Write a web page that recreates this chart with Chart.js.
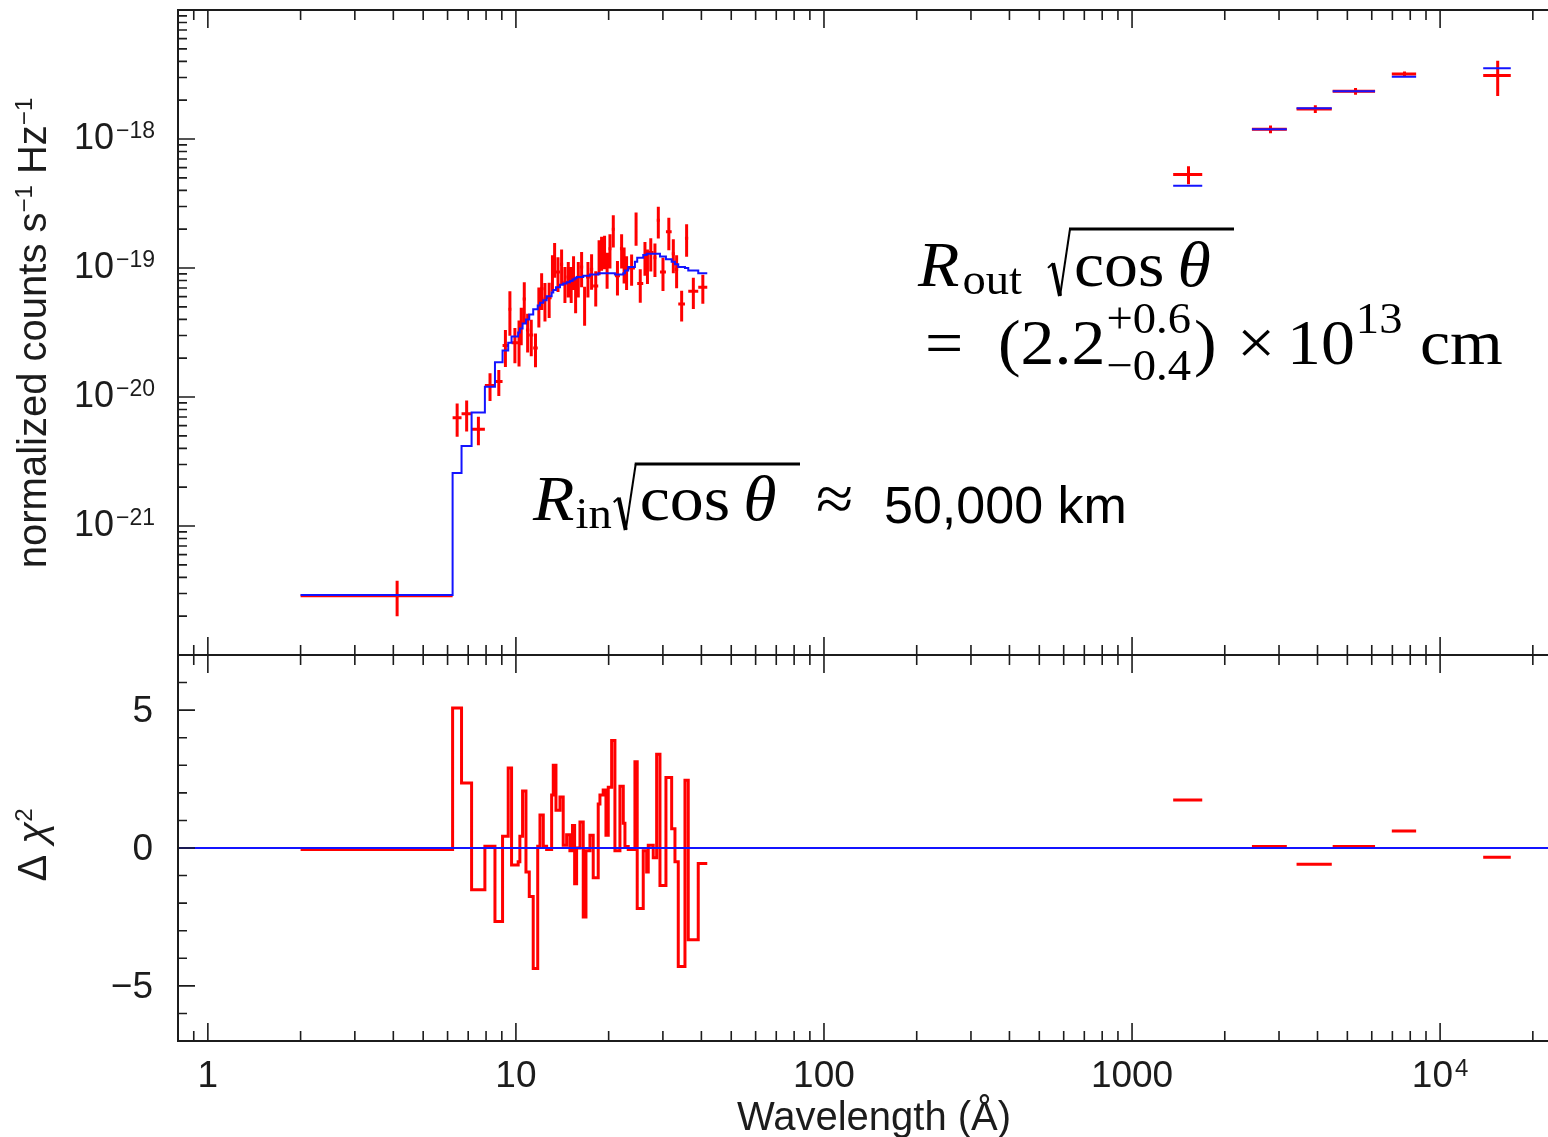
<!DOCTYPE html>
<html>
<head>
<meta charset="utf-8">
<title>Spectral fit and residuals</title>
<script src="https://cdn.jsdelivr.net/npm/chart.js@4.4.1/dist/chart.umd.min.js"></script>
<style>
    html, body { margin: 0; padding: 0; background: #fff; }
    #wrap { position: relative; width: 1548px; height: 1137px; overflow: hidden; }
    #wrap canvas { position: absolute; left: 0; top: 0; }
</style>
</head>
<body>
<div id="wrap">
    <canvas id="spec" width="1548" height="1137"></canvas>
    <canvas id="resid" width="1548" height="1137"></canvas>
</div>
<script>
(function () {
    'use strict';

    // ── Axis ranges / tick labels ───────────────────────────────────────────
    var waveMin = 0.8, waveMax = 22400;
    var fluxMin = 1e-22, fluxMax = 1e-17;
    var residMin = -7, residMax = 7;

    var waveTicks   = [1, 10, 100, 1000, 10000];
    var waveLabels  = ['1', '10', '100', '1000', '10^4'];
    var fluxTicks   = [1e-18, 1e-19, 1e-20, 1e-21];
    var fluxLabels  = ['10^\u221218', '10^\u221219', '10^\u221220', '10^\u221221'];
    var residTicks  = [5, 0, -5];
    var residLabels = ['5', '0', '\u22125'];

    // ── X-ray spectrum (contiguous bins, Å) ─────────────────────────────────
    var xrayEdges = [2.0, 6.23, 6.66, 7.18, 7.93, 8.55, 9.05, 9.44, 9.68, 10.17, 10.30,
        10.51, 10.78, 11.05, 11.38, 11.77, 11.97, 12.27, 12.58, 13.06, 13.22,
        13.49, 13.90, 14.24, 14.61, 14.97, 15.26, 15.51, 15.74, 16.14, 16.54,
        16.88, 17.39, 17.82, 18.50, 18.74, 19.20, 19.60, 19.94, 20.45, 20.96,
        21.76, 22.31, 22.59, 23.15, 24.34, 24.76, 25.90, 26.57, 26.89, 27.91,
        28.63, 29.35, 30.69, 32.03, 32.83, 33.65, 35.38, 36.26, 39.07, 41.8];

    var xrayFlux = [2.88e-22, 6.92e-21, 7.41e-21, 5.62e-21, 1.23e-20, 1.32e-20, 2.51e-20, 4.79e-20, 2.63e-20, 2.82e-20,
        3.72e-20, 5.75e-20, 3.31e-20, 3.02e-20, 2.40e-20, 5.25e-20, 6.92e-20, 5.75e-20, 5.89e-20, 9.55e-20,
        1.20e-19, 9.33e-20, 1.07e-19, 7.76e-20, 8.51e-20, 7.76e-20, 9.55e-20, 6.46e-20, 8.51e-20, 1.02e-19,
        5.37e-20, 8.51e-20, 9.77e-20, 7.24e-20, 1.26e-19, 1.35e-19, 1.38e-19, 1.00e-19, 1.41e-19, 2.00e-19,
        8.71e-20, 1.41e-19, 1.10e-19, 9.55e-20, 1.00e-19, 2.09e-19, 7.59e-20, 1.23e-19, 1.07e-19, 1.32e-19,
        1.20e-19, 2.34e-19, 9.33e-20, 1.91e-19, 1.29e-19, 9.77e-20, 5.25e-20, 1.70e-19, 6.61e-20, 7.08e-20];

    var xrayErr = [0.88e-22, 2.0e-21, 2.0e-21, 1.4e-21, 3.0e-21, 3.0e-21, 8.0e-21, 1.8e-20, 8.0e-21, 1.1e-20,
        1.2e-20, 2.0e-20, 1.1e-20, 9.5e-21, 7.0e-21, 1.8e-20, 2.2e-20, 1.9e-20, 1.8e-20, 3.0e-20,
        3.6e-20, 2.8e-20, 3.2e-20, 2.4e-20, 2.6e-20, 2.4e-20, 2.8e-20, 2.0e-20, 2.6e-20, 3.1e-20,
        1.8e-20, 2.6e-20, 3.0e-20, 2.2e-20, 3.8e-20, 4.0e-20, 4.0e-20, 3.1e-20, 4.2e-20, 5.6e-20,
        2.6e-20, 4.2e-20, 3.4e-20, 2.8e-20, 2.7e-20, 6.0e-20, 2.2e-20, 3.6e-20, 3.2e-20, 3.8e-20,
        3.5e-20, 6.5e-20, 2.7e-20, 5.4e-20, 3.8e-20, 2.8e-20, 1.4e-20, 4.8e-20, 1.8e-20, 1.8e-20];

    var xrayModel = [2.92e-22, 2.57e-21, 4.17e-21, 7.59e-21, 1.20e-20, 1.86e-20, 2.29e-20, 2.63e-20, 2.95e-20, 3.16e-20,
        3.39e-20, 3.72e-20, 3.98e-20, 4.37e-20, 4.79e-20, 5.13e-20, 5.37e-20, 5.62e-20, 6.03e-20, 6.46e-20,
        6.76e-20, 7.08e-20, 7.41e-20, 7.59e-20, 7.76e-20, 7.94e-20, 8.13e-20, 8.32e-20, 8.51e-20, 8.51e-20,
        8.71e-20, 8.71e-20, 8.91e-20, 8.91e-20, 9.12e-20, 9.12e-20, 9.12e-20, 9.12e-20, 9.12e-20, 9.12e-20,
        8.91e-20, 8.91e-20, 9.12e-20, 9.55e-20, 1.02e-19, 1.12e-19, 1.20e-19, 1.26e-19, 1.29e-19, 1.29e-19,
        1.29e-19, 1.29e-19, 1.23e-19, 1.17e-19, 1.12e-19, 1.07e-19, 1.02e-19, 1.00e-19, 9.55e-20, 9.12e-20];

    var xrayResid = [-0.05, 5.08, 2.36, -1.51, 0.06, -2.67, 0.43, 2.9, -0.62, -0.5,
        0.43, 2.07, -0.87, -1.76, -4.37, 0.06, 1.2, 0.06, -0.05, 1.92,
        3.0, 1.37, 1.85, 0.1, 0.48, -0.1, 0.82, -1.3, 0.0, 0.94,
        -2.5, -0.1, 0.46, -1.08, 1.6, 1.92, 2.1, 0.46, 2.2, 3.9,
        -0.1, 2.24, 0.9, 0.05, -0.05, 3.13, -2.19, -0.1, -0.87, 0.1,
        -0.35, 3.4, -1.36, 2.56, 0.7, -0.5, -4.3, 2.46, -3.33, -0.56];

    // ── UV / optical photometry (separate bands, Å) ─────────────────────────
    var optLo    = [1360, 2450, 3420, 4480, 6970, 13800];
    var optHi    = [1690, 3180, 4450, 6150, 8360, 16960];
    var optFlux  = [5.30e-19, 1.19e-18, 1.71e-18, 2.34e-18, 3.19e-18, 3.10e-18];
    var optErr   = [0.85e-19, 0.08e-18, 0.12e-18, 0.14e-18, 0.15e-18, 0.95e-18];
    var optModel = [4.35e-19, 1.19e-18, 1.73e-18, 2.34e-18, 3.04e-18, 3.53e-18];
    var optResid = [1.74, 0.05, -0.59, 0.05, 0.62, -0.34];

    var RED = '#ff0000', BLUE = '#1414ff', INK = '#1c1c1c';
    var SANS = '"Liberation Sans", Arial, Helvetica, sans-serif';
    var SERIF = '"Liberation Serif", "Times New Roman", serif';

    // ── Series builders ─────────────────────────────────────────────────────
    // crosses: bin-wide horizontal bar plus a vertical error bar at mid-bin
    function crossPoints(lo, hi, val, err) {
        var pts = [];
        for (var i = 0; i < val.length; i++) {
            var mid = (lo[i] + hi[i]) / 2;
            pts.push({ x: lo[i], y: val[i] }, { x: hi[i], y: val[i] }, { x: mid, y: null });
            pts.push({ x: mid, y: val[i] - err[i] }, { x: mid, y: val[i] + err[i] }, { x: mid, y: null });
        }
        return pts;
    }

    // connected histogram over contiguous bins
    function stepPoints(edges, val) {
        var pts = [];
        for (var i = 0; i < val.length; i++) {
            pts.push({ x: edges[i], y: val[i] }, { x: edges[i + 1], y: val[i] });
        }
        return pts;
    }

    // one flat segment per band, gaps in between
    function barPoints(lo, hi, val) {
        var pts = [];
        for (var i = 0; i < val.length; i++) {
            pts.push({ x: lo[i], y: val[i] }, { x: hi[i], y: val[i] }, { x: hi[i], y: null });
        }
        return pts;
    }

    var xrayLo = xrayEdges.slice(0, -1), xrayHi = xrayEdges.slice(1);

    // ── Tick helpers ────────────────────────────────────────────────────────
    function logSteps(min, max) {
        var out = [];
        for (var e = Math.floor(Math.log10(min)) - 1; e <= Math.ceil(Math.log10(max)); e++) {
            for (var m = 1; m < 10; m++) {
                var v = m * Math.pow(10, e);
                if (v > min * 1.001 && v < max * 0.999) out.push({ v: v, major: m === 1 });
            }
        }
        return out;
    }

    function linSteps(min, max, step, every) {
        var out = [];
        for (var v = min + step; v < max; v += step) out.push({ v: v, major: v % every === 0 });
        return out;
    }

    // "10^4" style label: base plus raised exponent
    function drawPow(ctx, text, x, y, size, align) {
        var parts = text.split('^');
        var supSize = Math.round(size * 0.64);
        ctx.font = size + 'px ' + SANS;
        var wBase = ctx.measureText(parts[0]).width;
        var wSup = 0;
        if (parts[1]) {
            ctx.font = supSize + 'px ' + SANS;
            wSup = ctx.measureText(parts[1]).width + 2;
        }
        var left = align === 'right' ? x - wBase - wSup : (align === 'center' ? x - (wBase + wSup) / 2 : x);
        ctx.textAlign = 'left';
        ctx.font = size + 'px ' + SANS;
        ctx.fillText(parts[0], left, y);
        if (parts[1]) {
            ctx.font = supSize + 'px ' + SANS;
            ctx.fillText(parts[1], left + wBase + 2, y - size * 0.3);
        }
    }

    // text runs along a rotated baseline (y axis titles)
    function drawRuns(ctx, runs, cx, cy, size) {
        var supSize = Math.round(size * 0.6), total = 0;
        runs.forEach(function (r) {
            ctx.font = (r.it ? 'italic ' : '') + (r.sup ? supSize : size) + 'px ' + SANS;
            r.w = ctx.measureText(r.t).width;
            total += r.w;
        });
        ctx.save();
        ctx.translate(cx, cy);
        ctx.rotate(-Math.PI / 2);
        ctx.textAlign = 'left';
        var x = -total / 2;
        runs.forEach(function (r) {
            ctx.font = (r.it ? 'italic ' : '') + (r.sup ? supSize : size) + 'px ' + SANS;
            ctx.fillText(r.t, x, r.sup ? -size * 0.36 : 0);
            x += r.w;
        });
        ctx.restore();
    }

    // ── Frame, inward ticks and labels ──────────────────────────────────────
    var panelFrame = {
        id: 'panelFrame',
        afterDatasetsDraw: function (chart, args, opts) {
            var ctx = chart.ctx, a = chart.chartArea;
            var xs = chart.scales.x, ys = chart.scales.y;
            ctx.save();
            ctx.strokeStyle = INK;
            ctx.lineWidth = 2;
            ctx.beginPath();
            ctx.moveTo(a.right + 4, a.top);
            ctx.lineTo(a.left, a.top);
            ctx.lineTo(a.left, a.bottom);
            ctx.lineTo(a.right + 4, a.bottom);
            ctx.stroke();

            ctx.lineWidth = 1.6;
            ctx.beginPath();
            logSteps(xs.min, xs.max).forEach(function (t) {
                var px = xs.getPixelForValue(t.v), len = t.major ? 18 : 10;
                ctx.moveTo(px, a.top);
                ctx.lineTo(px, a.top + len);
                ctx.moveTo(px, a.bottom);
                ctx.lineTo(px, a.bottom - len);
            });
            var yt = opts.logY ? logSteps(ys.min, ys.max) : linSteps(ys.min, ys.max, 1, 5);
            yt.forEach(function (t) {
                var py = ys.getPixelForValue(t.v), len = t.major ? 17 : 9;
                ctx.moveTo(a.left, py);
                ctx.lineTo(a.left + len, py);
            });
            ctx.stroke();

            ctx.fillStyle = INK;
            ctx.textBaseline = 'alphabetic';
            opts.yTicks.forEach(function (v, i) {
                var py = ys.getPixelForValue(v);
                drawPow(ctx, opts.yLabels[i], a.left - opts.yGap, py + opts.yShift, opts.ySize, 'right');
            });
            if (opts.xTicks) {
                opts.xTicks.forEach(function (v, i) {
                    drawPow(ctx, opts.xLabels[i], xs.getPixelForValue(v), a.bottom + 46, 37, 'center');
                });
                ctx.font = '40px ' + SANS;
                ctx.textAlign = 'center';
                ctx.fillText(opts.xTitle, 874, 1130);
            }
            drawRuns(ctx, opts.yTitle, 46, opts.titleY, 40);
            ctx.restore();
        }
    };

    // ── Fit-parameter annotations ───────────────────────────────────────────
    var EQ = 64, EQ_SUB = 44, EQ_STRETCH = 1.06;

    // draws one piece of the formula and returns its right edge
    function serif(ctx, text, x, y, size, italic) {
        ctx.save();
        ctx.font = (italic ? 'italic ' : '') + size + 'px ' + SERIF;
        ctx.textAlign = 'left';
        var w = ctx.measureText(text).width * EQ_STRETCH;
        ctx.translate(x, y);
        ctx.scale(EQ_STRETCH, 1);
        ctx.fillText(text, 0, 0);
        ctx.restore();
        return x + w;
    }

    function radical(ctx, x, yTop, yBot, xEnd) {
        var h = yBot - yTop;
        ctx.save();
        ctx.strokeStyle = '#000';
        ctx.lineCap = 'butt';
        ctx.lineWidth = 2;
        ctx.beginPath();
        ctx.moveTo(x, yTop + h * 0.58);
        ctx.lineTo(x + 5, yTop + h * 0.51);
        ctx.stroke();
        ctx.lineWidth = 4;
        ctx.beginPath();
        ctx.moveTo(x + 5, yTop + h * 0.51);
        ctx.lineTo(x + 12, yBot);
        ctx.stroke();
        ctx.lineWidth = 2;
        ctx.beginPath();
        ctx.moveTo(x + 12, yBot);
        ctx.lineTo(x + 22, yTop);
        ctx.stroke();
        ctx.lineWidth = 3;
        ctx.beginPath();
        ctx.moveTo(x + 21, yTop);
        ctx.lineTo(xEnd, yTop);
        ctx.stroke();
        ctx.restore();
        return x + 24;
    }

    var fitNotes = {
        id: 'fitNotes',
        afterDraw: function (chart) {
            var ctx = chart.ctx, x;
            ctx.save();
            ctx.fillStyle = '#000';
            ctx.textBaseline = 'alphabetic';

            // outer radius
            x = serif(ctx, 'R', 918, 286, EQ, true);
            serif(ctx, 'out', x + 3, 294, EQ_SUB, false);
            x = radical(ctx, 1048, 229, 296, 1234);
            x = serif(ctx, 'cos', x + 2, 286, EQ, false);
            serif(ctx, '\u03b8', x + 13, 286, EQ, true);

            serif(ctx, '=', 925, 364, EQ, false);
            x = serif(ctx, '(', 998, 364, EQ, false);
            x = serif(ctx, '2.2', x, 364, EQ, false);
            serif(ctx, '+0.6', x + 1, 333, EQ_SUB, false);
            x = serif(ctx, '\u22120.4', x + 1, 380, EQ_SUB, false);
            serif(ctx, ')', x + 3, 364, EQ, false);
            serif(ctx, '\u00d7', 1237, 364, EQ, false);
            x = serif(ctx, '10', 1287, 364, EQ, false);
            serif(ctx, '13', x + 1, 333, EQ_SUB, false);
            serif(ctx, 'cm', 1420, 364, EQ, false);

            // inner radius
            x = serif(ctx, 'R', 533, 520, EQ, true);
            x = serif(ctx, 'in', x + 1, 528, EQ_SUB, false);
            x = radical(ctx, x + 2, 464, 530, 800);
            x = serif(ctx, 'cos', x + 2, 520, EQ, false);
            serif(ctx, '\u03b8', x + 13, 520, EQ, true);
            serif(ctx, '\u2248', 816, 520, EQ, false);
            ctx.font = '52px ' + SANS;
            ctx.textAlign = 'left';
            ctx.fillText('50,000 km', 884, 523);
            ctx.restore();
        }
    };

    function lineSet(points, color, width, order) {
        return {
            data: points, showLine: true, spanGaps: false,
            borderColor: color, borderWidth: width, pointRadius: 0,
            fill: false, order: order
        };
    }

    var common = {
        responsive: false,
        animation: false,
        events: [],
        plugins: { legend: { display: false }, tooltip: { enabled: false } }
    };

    // ── Spectrum panel ──────────────────────────────────────────────────────
    new Chart(document.getElementById('spec'), {
        type: 'scatter',
        data: {
            datasets: [
                lineSet(stepPoints(xrayEdges, xrayModel), BLUE, 2, 1),
                lineSet(barPoints(optLo, optHi, optModel), BLUE, 2, 1),
                lineSet(crossPoints(xrayLo, xrayHi, xrayFlux, xrayErr), RED, 3, 2),
                lineSet(crossPoints(optLo, optHi, optFlux, optErr), RED, 3, 2)
            ]
        },
        options: Object.assign({}, common, {
            layout: { padding: { left: 178, top: 10, right: 0, bottom: 482 } },
            scales: {
                x: { type: 'logarithmic', min: waveMin, max: waveMax, display: false },
                y: { type: 'logarithmic', min: fluxMin, max: fluxMax, display: false }
            },
            plugins: Object.assign({}, common.plugins, {
                panelFrame: {
                    logY: true, yTicks: fluxTicks, yLabels: fluxLabels,
                    ySize: 36, yGap: 23, yShift: 10, titleY: 333,
                    yTitle: [{ t: 'normalized counts s' }, { t: '\u22121', sup: true },
                             { t: ' Hz' }, { t: '\u22121', sup: true }]
                }
            })
        }),
        plugins: [panelFrame, fitNotes]
    });

    // ── Residual panel ──────────────────────────────────────────────────────
    new Chart(document.getElementById('resid'), {
        type: 'scatter',
        data: {
            datasets: [
                lineSet([{ x: waveMin, y: 0 }, { x: waveMax, y: 0 }], BLUE, 2, 1),
                lineSet(stepPoints(xrayEdges, xrayResid), RED, 3, 2),
                lineSet(barPoints(optLo, optHi, optResid), RED, 3, 2)
            ]
        },
        options: Object.assign({}, common, {
            layout: { padding: { left: 178, top: 655, right: 0, bottom: 96 } },
            scales: {
                x: { type: 'logarithmic', min: waveMin, max: waveMax, display: false },
                y: { type: 'linear', min: residMin, max: residMax, display: false }
            },
            plugins: Object.assign({}, common.plugins, {
                panelFrame: {
                    logY: false, yTicks: residTicks, yLabels: residLabels,
                    ySize: 37, yGap: 25, yShift: 12, titleY: 845,
                    xTicks: waveTicks, xLabels: waveLabels, xTitle: 'Wavelength (\u00c5)',
                    yTitle: [{ t: '\u0394 ' }, { t: '\u03c7', it: true }, { t: '2', sup: true }]
                }
            })
        }),
        plugins: [panelFrame]
    });
})();
</script>
</body>
</html>
